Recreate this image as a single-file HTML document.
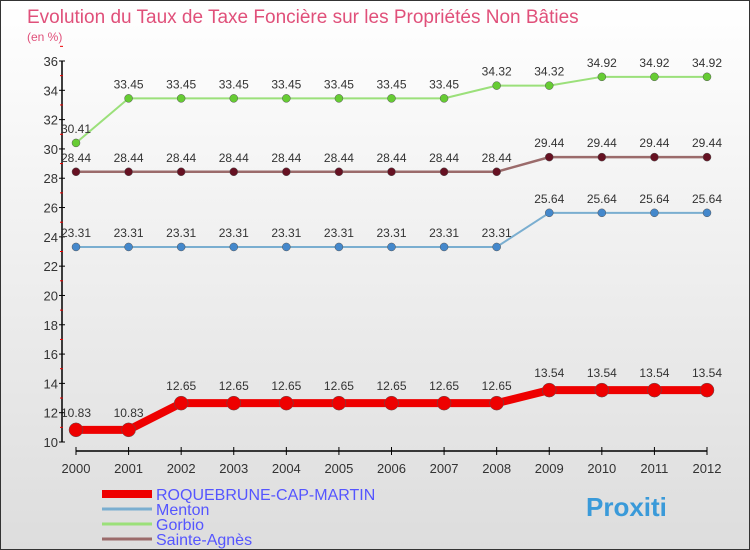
<!DOCTYPE html>
<html><head><meta charset="utf-8"><style>
body{margin:0}
#c{width:750px;height:550px;position:relative;overflow:hidden;font-family:"Liberation Sans",sans-serif;background:linear-gradient(#fff,#ddd);box-sizing:border-box;border:1px solid #333}
</style></head><body>
<div id="c">
<svg id="s" width="750" height="550" style="position:absolute;left:0;top:0">
<text x="26" y="22" font-size="19" fill="#e0507a">Evolution du Taux de Taxe Foncière sur les Propriétés Non Bâties</text>
<text x="26" y="40" font-size="12" fill="#e0507a">(en %)</text>
</svg>
</div>
<script>
const years=[2000,2001,2002,2003,2004,2005,2006,2007,2008,2009,2010,2011,2012];
const roque=[10.83,10.83,12.65,12.65,12.65,12.65,12.65,12.65,12.65,13.54,13.54,13.54,13.54];
const menton=[23.31,23.31,23.31,23.31,23.31,23.31,23.31,23.31,23.31,25.64,25.64,25.64,25.64];
const gorbio=[30.41,33.45,33.45,33.45,33.45,33.45,33.45,33.45,34.32,34.32,34.92,34.92,34.92];
const sainte=[28.44,28.44,28.44,28.44,28.44,28.44,28.44,28.44,28.44,29.44,29.44,29.44,29.44];
const yTicks=[10,12,14,16,18,20,22,24,26,28,30,32,34,36];
const names=["ROQUEBRUNE-CAP-MARTIN","Menton","Gorbio","Sainte-Agnès"];
const NS="http://www.w3.org/2000/svg",s=document.getElementById('s');
const X=i=>75+i*(706-75)/(years.length-1);
const Y=v=>441-(v-10)*(441-60)/26;
function el(t,a,p){const e=document.createElementNS(NS,t);for(const k in a)e.setAttribute(k,a[k]);(p||s).appendChild(e);return e;}
const ax=el('line',{x1:61,y1:60,x2:61,y2:441,stroke:'#000','stroke-width':1.5});


yTicks.forEach(v=>{
 el('line',{x1:58,x2:64,y1:Y(v),y2:Y(v),stroke:'#000'});
 el('line',{x1:59,x2:62,y1:Y(v+1),y2:Y(v+1),stroke:'#e00'});
 const t=el('text',{x:57,y:Y(v)+5,'font-size':13,fill:'#333','text-anchor':'end'});t.textContent=v;
 
 
});
const xa=el('line',{x1:75,y1:450,x2:706,y2:450,stroke:'#000','stroke-width':1.5});


years.forEach((y,i)=>{
 el('line',{x1:X(i),x2:X(i),y1:446,y2:454,stroke:'#000'});
 const t=el('text',{x:X(i),y:472,'font-size':13,fill:'#333','text-anchor':'middle'});t.textContent=y;
 
 
});
function series(d,col,w,r,name,fill){
 const g=el('g',{});
 
 
 let p='';d.forEach((v,i)=>{p+=(i?'L':'M')+X(i)+' '+Y(v);});
 el('path',{d:p,fill:'none',stroke:col,'stroke-width':w,'stroke-linejoin':'round'},g);
 d.forEach((v,i)=>{
  const c=el('circle',{cx:X(i),cy:Y(v),r:r,fill:fill,stroke:'#555','stroke-width':0.5},g);
  
  
  const t=el('text',{x:X(i),y:Y(v)-(r+6),'font-size':12,fill:'#333','text-anchor':'middle'},g);
  t.textContent=String(v);
 });
}
series(gorbio,'#9be07a',2,4,'series-gorbio','#6c3');
series(sainte,'#9b6b6b',2.5,4,'series-sainte-agnes','#612');
series(menton,'#7aaed0',2,4,'series-menton','#48c');
series(roque,'#e00',8,7,'series-roquebrune','#e00');
const cols=['#e00','#7aaed0','#9be07a','#9b6b6b'],ws=[8,3,3,3];
names.forEach((n,i)=>{
 const y=493+i*15;
 const g=el('g',{});
 
 
 el('line',{x1:101,x2:151,y1:y,y2:y,stroke:cols[i],'stroke-width':ws[i]},g);
 const t=el('text',{x:155,y:y+6,'font-size':16,fill:'#55f'},g);t.textContent=n;
});
const lg=el('text',{x:585,y:515,'font-size':26,'font-weight':'bold',fill:'#3a9ad9'});
lg.textContent='Proxiti';


</script>
</body></html>
